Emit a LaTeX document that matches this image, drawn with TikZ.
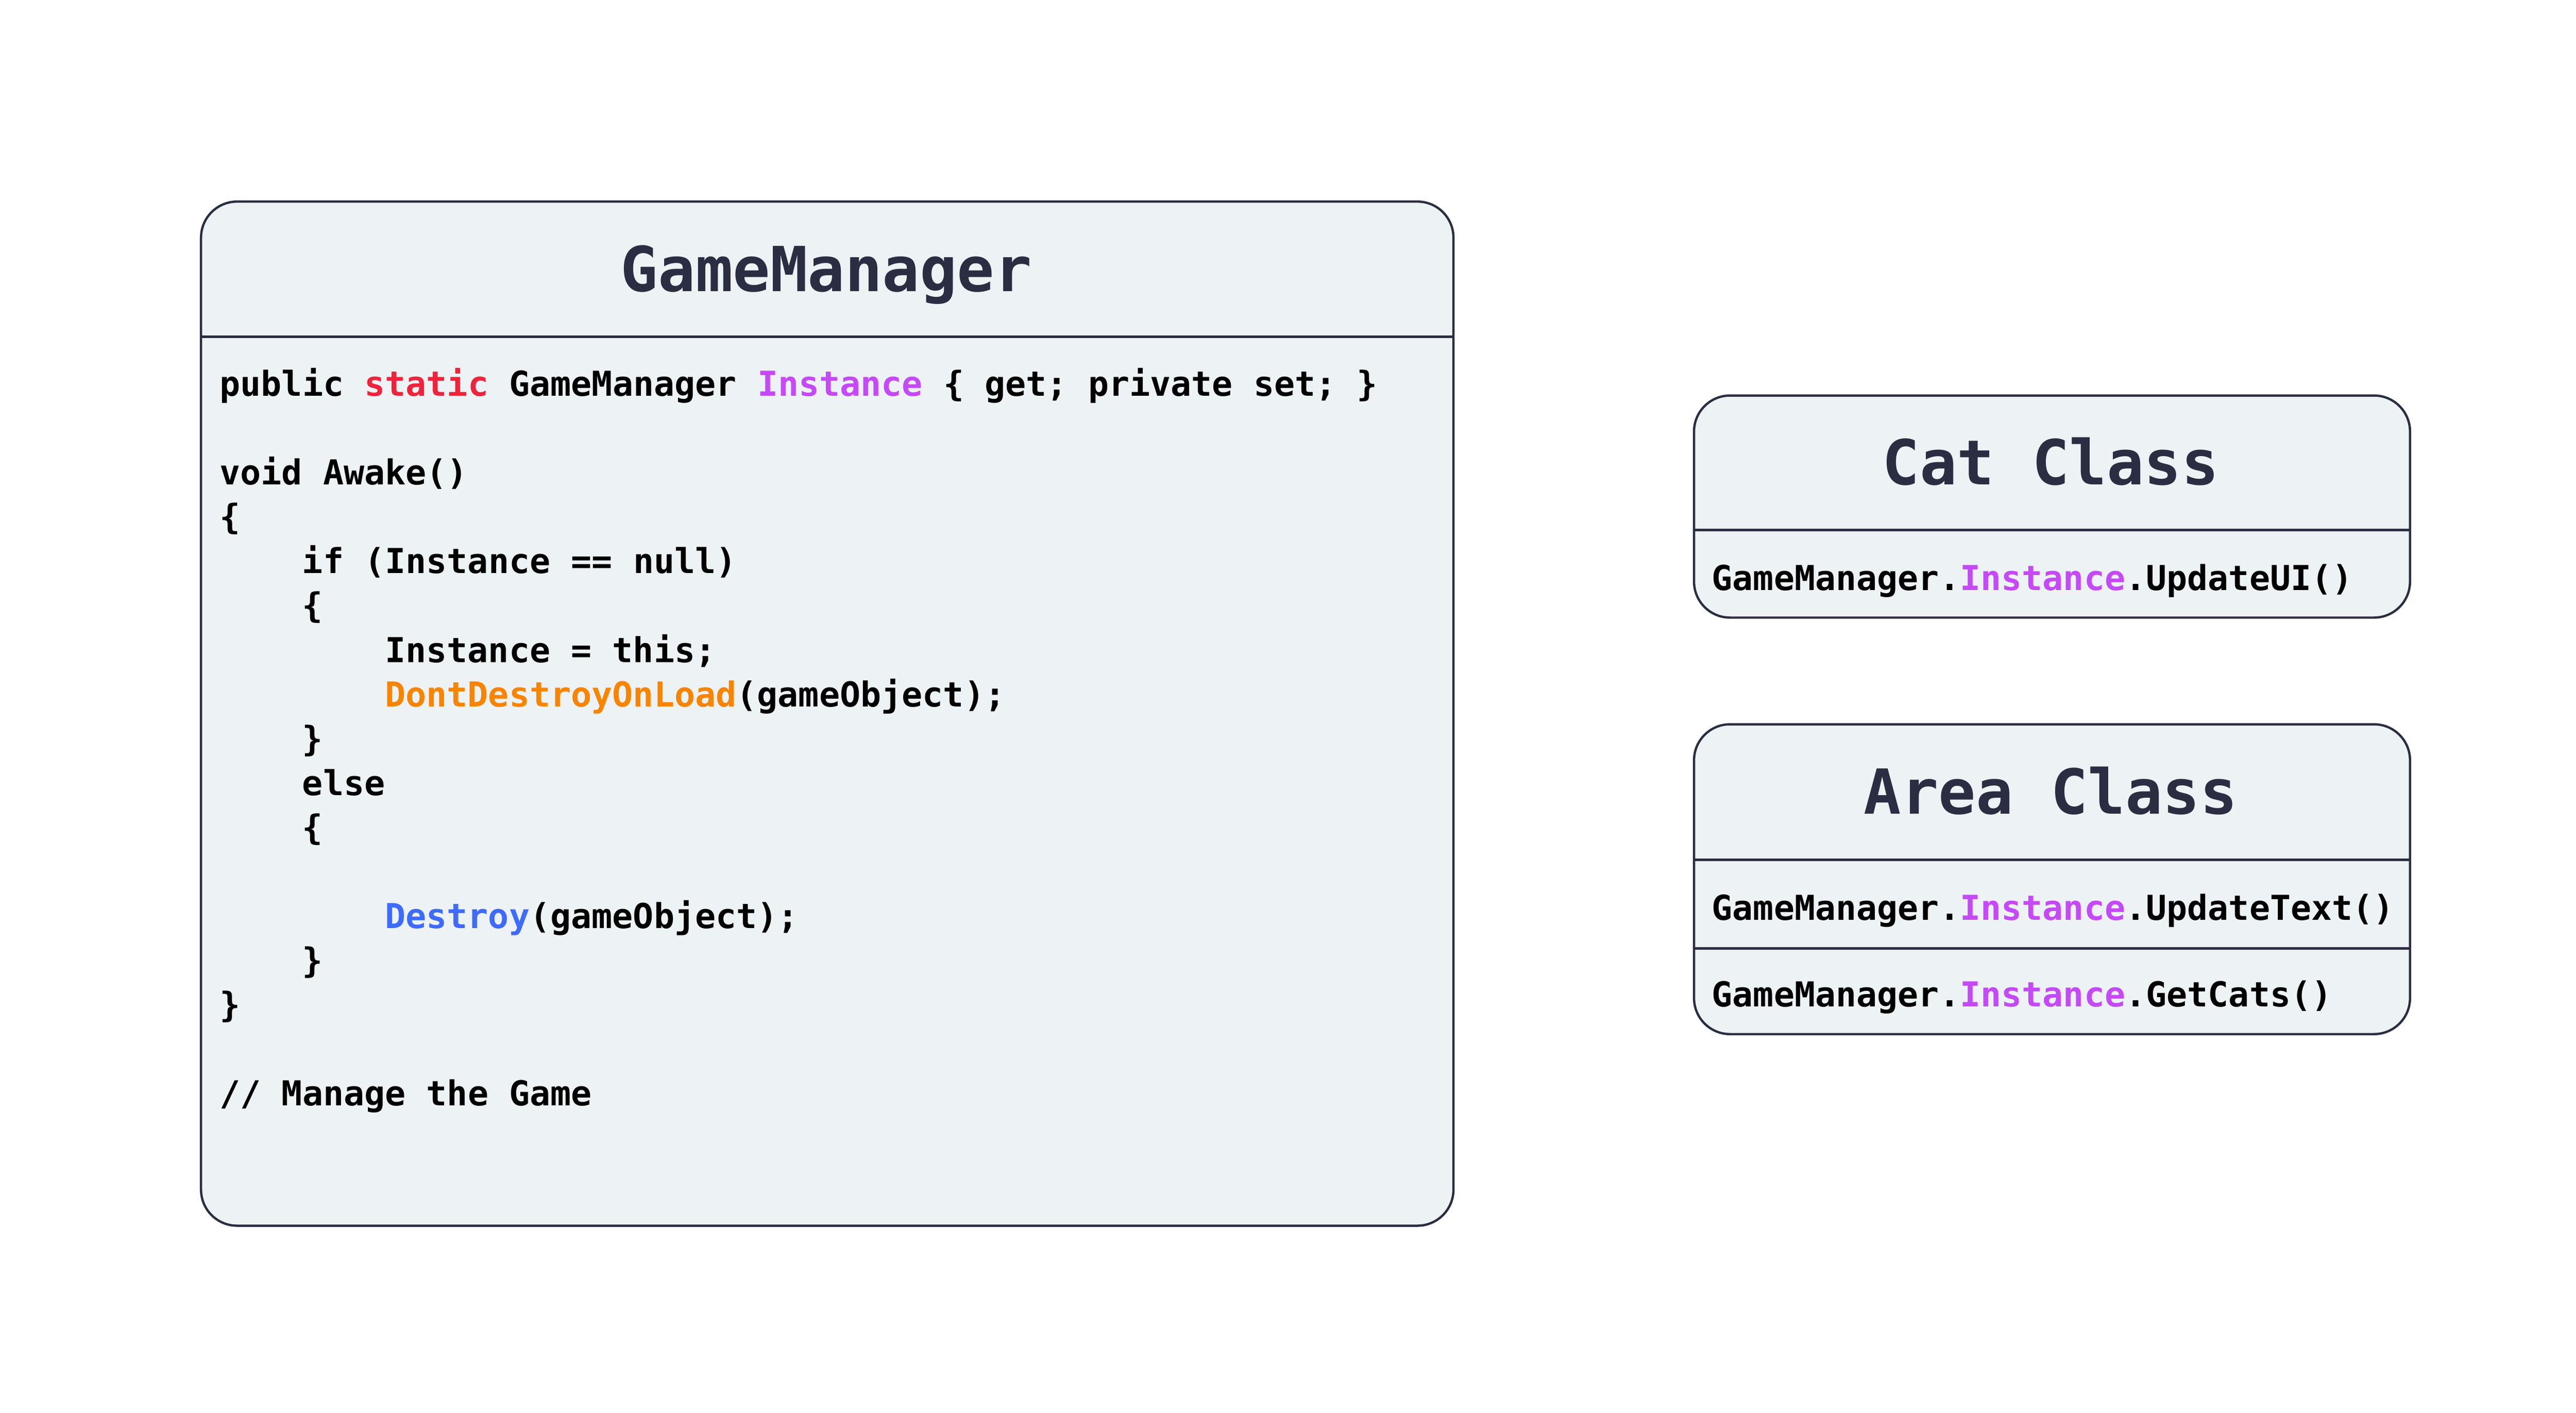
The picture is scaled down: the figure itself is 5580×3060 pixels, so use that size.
\documentclass[tikz,border=0pt]{standalone}
\usepackage{fontspec}
\newfontfamily\codefont{DejaVu Sans Mono}
\definecolor{ink}{HTML}{2B2D42}
\definecolor{boxfill}{HTML}{EDF2F4}
\definecolor{kwred}{HTML}{EF233C}
\definecolor{kwpurple}{HTML}{C549F8}
\definecolor{kworange}{HTML}{F88400}
\definecolor{kwblue}{HTML}{3E6BFE}
\newcommand\kwInst[1]{\textcolor{kwpurple}{#1}}
\newcommand\kwRed[1]{\textcolor{kwred}{#1}}
\newcommand\kwOrange[1]{\textcolor{kworange}{#1}}
\newcommand\kwBlue[1]{\textcolor{kwblue}{#1}}
\tikzset{
  umlbox/.style={draw=ink, fill=boxfill, line width=0.5pt, rounded corners=7.8pt, inner sep=0pt, anchor=north west},
  sepline/.style={draw=ink, line width=0.5pt},
  titletext/.style={font=\codefont\bfseries\fontsize{13.45}{16}\selectfont, text=ink, inner sep=0pt, anchor=base},
  codetext/.style={font=\codefont\bfseries\fontsize{7.44}{9}\selectfont, text=black, inner sep=0pt, anchor=base west},
}
\begin{document}
\begin{tikzpicture}[x=0.1pt,y=-0.1pt]
\path[use as bounding box, fill=white] (0,0) rectangle (5580,3060);

% GameManager box
\node[umlbox, minimum width=271.3pt, minimum height=221.8pt] (gm) at (433,434) {};
\coordinate (gmsepL) at (433,729);
\coordinate (gmsepR) at (3146,729);
\draw[sepline] (gmsepL) -- (gmsepR);
\node[titletext] (gmtitle) at (1790,631) {GameManager};

\node[codetext] (c0) at (474,858) {public \kwRed{static} GameManager \kwInst{Instance} \{ get; private set; \}};
\node[codetext] (c2) at (474,1050) {void Awake()};
\node[codetext] (c3) at (474,1146) {\{};
\node[codetext] (c4) at (653,1242) {if (Instance == null)};
\node[codetext] (c5) at (653,1338) {\{};
\node[codetext] (c6) at (832,1434) {Instance = this;};
\node[codetext] (c7) at (832,1530) {\kwOrange{DontDestroyOnLoad}(gameObject);};
\node[codetext] (c8) at (653,1626) {\}};
\node[codetext] (c9) at (653,1722) {else};
\node[codetext] (c10) at (653,1818) {\{};
\node[codetext] (c12) at (832,2010) {\kwBlue{Destroy}(gameObject);};
\node[codetext] (c13) at (653,2106) {\}};
\node[codetext] (c14) at (474,2202) {\}};
\node[codetext] (c16) at (474,2394) {// Manage the Game};

% Cat Class box
\node[umlbox, minimum width=155.1pt, minimum height=48.1pt] (cat) at (3667,854) {};
\coordinate (catsepL) at (3667,1148);
\coordinate (catsepR) at (5218,1148);
\draw[sepline] (catsepL) -- (catsepR);
\node[titletext] (cattitle) at (4442,1050) {Cat Class};
\node[codetext] (cat1) at (3706,1278) {GameManager.\kwInst{Instance}.UpdateUI()};

% Area Class box
\node[umlbox, minimum width=155.1pt, minimum height=67.1pt] (area) at (3667,1566) {};
\coordinate (areasepAL) at (3667,1862);
\coordinate (areasepAR) at (5218,1862);
\coordinate (areasepBL) at (3667,2054);
\coordinate (areasepBR) at (5218,2054);
\draw[sepline] (areasepAL) -- (areasepAR);
\draw[sepline] (areasepBL) -- (areasepBR);
\node[titletext] (areatitle) at (4442,1763) {Area Class};
\node[codetext] (area1) at (3706,1992) {GameManager.\kwInst{Instance}.UpdateText()};
\node[codetext] (area2) at (3706,2180) {GameManager.\kwInst{Instance}.GetCats()};
\end{tikzpicture}
\end{document}
